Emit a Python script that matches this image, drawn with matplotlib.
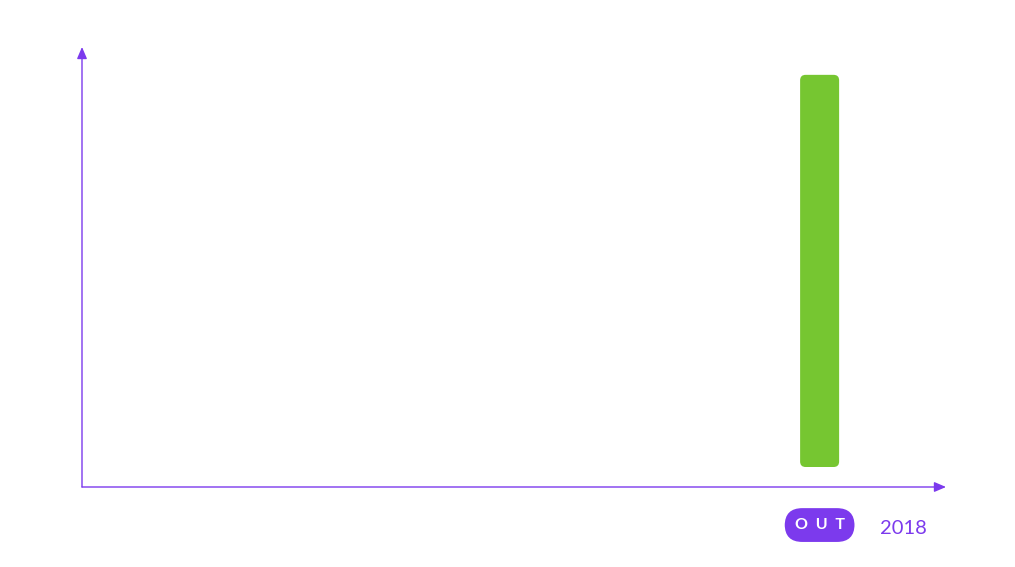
import numpy as np
import matplotlib.pyplot as plt
from matplotlib.patches import FancyBboxPatch

'''Chart data'''
years = ["2018"]
values = [100]
tags = ["OUT"]

purple = '#7c3aed'
green = '#76c631'

plt.rcParams['font.family'] = ['Lato', 'DejaVu Sans']

fig = plt.figure(figsize=(10.15, 5.67), dpi=100)
ax = fig.add_axes([82/1015, 80/567, (946-82)/1015, (487-47)/567])
ax.set_xlim(-18.91, 3.24)
ax.set_ylim(-5.1, 107.1)
ax.axis('off')

'''Axes lines with arrow heads'''
ax.annotate('', xy=(0, 1), xytext=(0, 0), xycoords='axes fraction',
            arrowprops=dict(arrowstyle='-|>,head_length=0.7,head_width=0.3',
                            color=purple, lw=1, shrinkA=0, shrinkB=0))
ax.annotate('', xy=(1, 0), xytext=(0, 0), xycoords='axes fraction',
            arrowprops=dict(arrowstyle='-|>,head_length=0.7,head_width=0.3',
                            color=purple, lw=1, shrinkA=0, shrinkB=0))

'''Rounded bars'''
bars = ax.bar(np.arange(len(years)), values, width=1, color='none')
for b in bars:
    x, y, w, h = b.get_x(), b.get_y(), b.get_width(), b.get_height()
    ax.add_patch(FancyBboxPatch((x, y), w, h,
                                boxstyle='round,pad=0,rounding_size=0.14',
                                mutation_aspect=10, color=green, lw=0))

'''Labels under bars'''
for i, (yr, tg) in enumerate(zip(years, tags)):
    ax.text(i, -14.8, '  '.join(tg), ha='center', va='center', color='white',
            fontsize=11.5, fontweight='bold', clip_on=False,
            bbox=dict(boxstyle='round,pad=0.62,rounding_size=1.1',
                      fc=purple, ec='none'))
    ax.text(i + 2.14, -15.6, yr, ha='center', va='center', color=purple,
            fontsize=14.5, clip_on=False)

plt.savefig('out.png', dpi=100)
